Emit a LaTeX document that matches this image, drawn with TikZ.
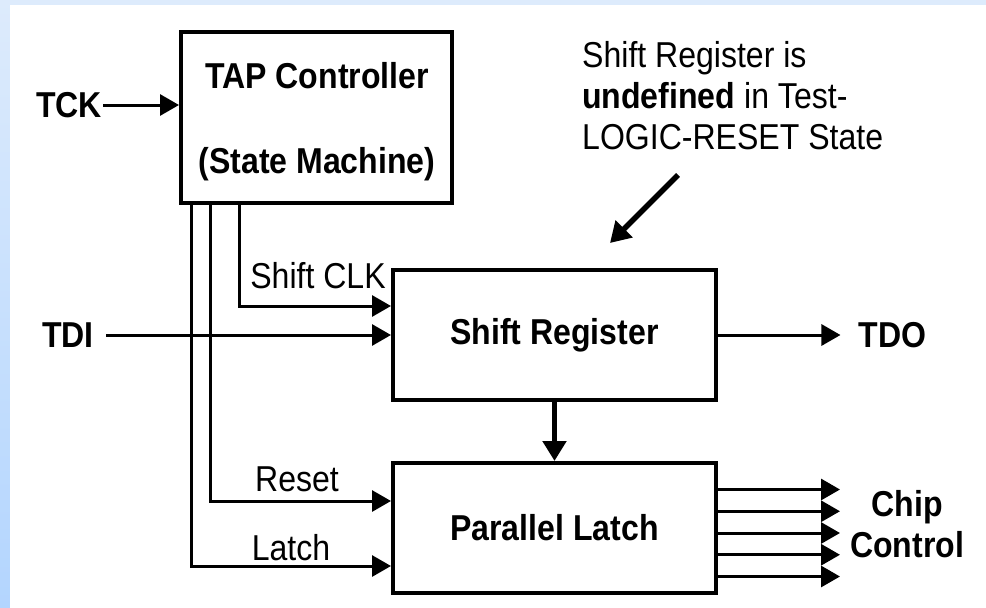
\documentclass[tikz,border=0pt]{standalone}
\usepackage{fontspec}
\setmainfont{Liberation Sans}[FakeStretch=0.89]
\usetikzlibrary{arrows.meta}
\definecolor{bandtop}{HTML}{DDEBFC}
\definecolor{bandbot}{HTML}{B3D5FE}

\begin{document}
\begin{tikzpicture}[x=1pt,y=-1pt,
    font=\fontsize{36}{41}\selectfont,
    blk/.style={draw, line width=4pt, inner sep=0pt, font=\fontsize{36}{41}\selectfont\bfseries},
    pin/.style={inner sep=0pt, font=\fontsize{36}{41}\selectfont\bfseries},
    lbl/.style={inner sep=0pt},
    sig/.style={line width=3pt, -{Triangle[length=19pt,width=21pt]}},
    bus/.style={line width=5.5pt, -{Triangle[length=20pt,width=23pt]}}]
    % background band
    \shade[top color=bandtop, bottom color=bandbot] (0,0) rectangle (986,608);
    \fill[white] (10,5) rectangle (986,608);
    \useasboundingbox (0,0) rectangle (986,608);

    % blocks
    \node[blk, minimum width=271pt, minimum height=171pt] (tap) at (316.5,117.5) {};
    \node[pin, align=center] (taptxt) at (317,122) {TAP Controller\\[44pt](State Machine)};
    \node[blk, minimum width=323pt, minimum height=130pt] (sreg) at (554.5,335) {Shift Register};
    \node[blk, minimum width=323pt, minimum height=130pt] (latch) at (554.5,528) {Parallel Latch};

    % pins
    \node[pin] (tck) at (69,105) {TCK};
    \node[pin] (tdi) at (68,335) {TDI};
    \node[pin] (tdo) at (892.5,335) {TDO};
    \node[pin, align=center] (chip) at (907,524) {Chip\\Control};

    % signal labels
    \node[lbl] (clklbl) at (318,276) {Shift CLK};
    \node[lbl] (rstlbl) at (297,479) {Reset};
    \node[lbl] (latlbl) at (291,548) {Latch};
    \node[lbl, anchor=north west, align=left] (note) at (582,41)
      {Shift Register is\\\textbf{undefined} in Test-\\LOGIC-RESET State};

    % inputs and outputs
    \draw[sig] ([xshift=1pt]tck.east) -- (tck.east -| tap.west);
    \draw[sig] ([xshift=12pt]tdi.east) -- (tdi.east -| sreg.west);
    \draw[sig] (sreg.east) -- ([xshift=-18pt]tdo.west);

    % control lines from the TAP controller
    \draw[sig] ([xshift=60pt]tap.south west) |- ([yshift=29pt]sreg.west);
    \draw[sig] ([xshift=31pt]tap.south west) |- ([yshift=27pt]latch.west);
    \draw[sig] ([xshift=12pt]tap.south west) |- ([yshift=-38pt]latch.west);

    % shift register -> latch
    \draw[bus] (sreg.south) -- (latch.north);

    % chip control outputs
    \coordinate (chipend) at (840,533);
    \coordinate (chipstart) at (latch.east |- chipend);
    \foreach \dy in {43.5,21.75,0,-21.75,-43.5}
      \draw[sig] ([yshift=\dy pt]chipstart) -- ([yshift=\dy pt]chipend);

    % annotation arrow
    \coordinate (notetail) at (678,175);
    \coordinate (notehead) at (610,243);
    \draw[bus] (notetail) -- (notehead);
\end{tikzpicture}
\end{document}
